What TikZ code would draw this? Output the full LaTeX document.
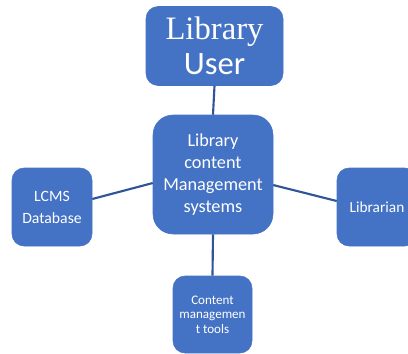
\documentclass[tikz,border=0pt]{standalone}
\usepackage{fontspec}
\setmainfont{Carlito}
\newfontfamily\serifx{Liberation Serif}
\definecolor{boxblue}{HTML}{4472C4}
\definecolor{lineblue}{HTML}{2F5597}
\begin{document}
\begin{tikzpicture}[x=0.75pt,y=-0.75pt,
  box/.style={fill=boxblue,draw=boxblue,text=white,align=center,inner sep=1pt},
  link/.style={draw=lineblue,line width=1.6pt}]
\useasboundingbox (0,0) rectangle (408,354);
\clip (0,0) rectangle (408,354);
\node[box,rounded corners=9pt,minimum width=102.75pt,minimum height=59.25pt,
  font=\fontsize{24.5}{26.5}\selectfont] (U) at (214.5,46)
  {{\serifx Library}\\User};
\node[box,rounded corners=15pt,minimum width=90pt,minimum height=89.25pt,
  font=\fontsize{13.7}{16.5}\selectfont] (C) at (213,174.5)
  {Library\\content\\Management\\systems};
\node[box,rounded corners=9pt,minimum width=60pt,minimum height=58.5pt,
  font=\fontsize{11.8}{16.5}\selectfont] (L) at (52,207) {LCMS\\Database};
\node[box,rounded corners=9pt,minimum width=60pt,minimum height=58.5pt,
  font=\fontsize{11.5}{14}\selectfont] (R) at (377,207) {Librarian};
\node[box,rounded corners=9pt,minimum width=59.25pt,minimum height=57.75pt,
  font=\fontsize{9.8}{11}\selectfont] (B) at (212.5,314.5) {Content\\managemen\\t tools};
\draw[link] (U.south) -- (C.north);
\draw[link] (C.south) -- (B.north);
\draw[link] ([yshift=6pt]L.east) -- ([yshift=-6.4pt]C.west);
\draw[link] ([yshift=-7.9pt]C.east) -- ([yshift=4.5pt]R.west);
\end{tikzpicture}
\end{document}
